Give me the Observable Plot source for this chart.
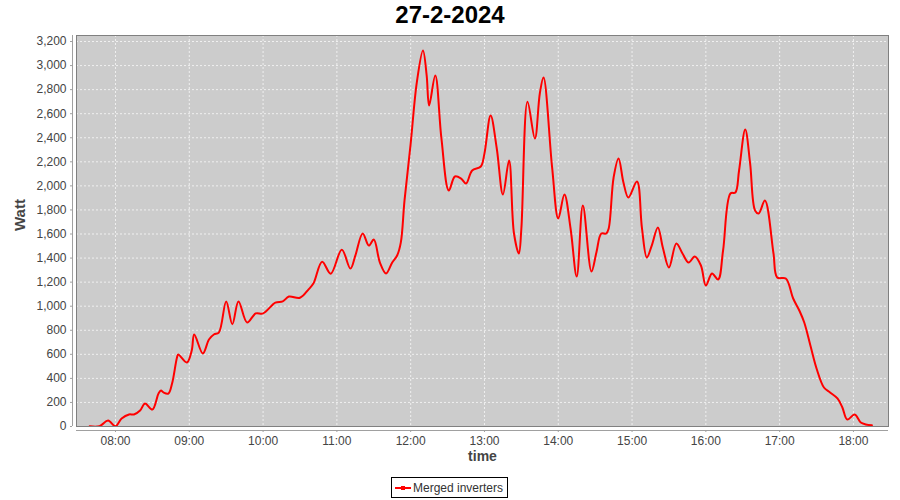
<!DOCTYPE html>
<html>
<head>
<meta charset="utf-8">
<script src="https://cdn.jsdelivr.net/npm/d3@7"></script>
<script src="https://cdn.jsdelivr.net/npm/@observablehq/plot@0.6"></script>
<style>
  html, body { margin: 0; padding: 0; background: #ffffff; }
  #wrap { position: relative; width: 900px; height: 500px; font-family: "Liberation Sans", Arial, sans-serif; }
  #title { position: absolute; left: 0; top: 0; width: 900px; height: 29px; line-height: 29px; text-align: center;
           font-weight: bold; font-size: 24px; color: #000; }
  #chart { position: absolute; left: 0; top: 0; }
  #legend { position: absolute; left: 391px; top: 477px; width: 115px; height: 19px; border: 1px solid #000;
            background: #fff; font-size: 12px; color: #333; }
  #legend .sw { position: absolute; left: 3px; top: 9px; width: 16px; height: 2px; background: #ff0000; }
  #legend .mk { position: absolute; left: 9px; top: 8px; width: 4px; height: 4px; background: #ff0000; }
  #legend .lb { position: absolute; left: 21px; top: 3px; white-space: nowrap; }
</style>
</head>
<body>
<div id="wrap">
  <div id="chart"></div>
  <div id="title">27-2-2024</div>
  <div id="legend"><span class="sw"></span><span class="mk"></span><span class="lb">Merged inverters</span></div>
</div>
<script>
const day = "2024-02-27";
const times = [
  "07:39","07:47","07:54","08:00","08:05","08:11","08:15","08:20","08:24","08:30",
  "08:35","08:37","08:39","08:43","08:46","08:50","08:51","08:58","09:02","09:04",
  "09:11","09:16","09:20","09:24","09:30","09:35","09:40","09:47","09:54","10:00",
  "10:10","10:16","10:21","10:30","10:37","10:41","10:48","10:55","11:04","11:11",
  "11:15","11:21","11:26","11:30","11:35","11:40","11:45","11:49","11:52","11:55",
  "12:00","12:05","12:10","12:13","12:15","12:20","12:25","12:31","12:36","12:41",
  "12:45","12:50","12:57","13:00","13:05","13:10","13:15","13:20","13:24","13:28",
  "13:30","13:35","13:41","13:45","13:48","13:55","14:00","14:05","14:10","14:15",
  "14:20","14:27","14:31","14:35","14:39","14:41","14:45","14:49","14:53","14:57",
  "15:04","15:08","15:12","15:16","15:21","15:25","15:30","15:36","15:41","15:46",
  "15:51","15:56","16:00","16:05","16:10","16:14","16:20","16:24","16:27","16:32",
  "16:36","16:40","16:43","16:48","16:55","16:58","17:05","17:11","17:16","17:20",
  "17:25","17:30","17:36","17:41","17:47","17:51","17:55","18:01","18:06","18:10",
  "18:15"
];
const watts = [
  2, 3, 50, 2, 66, 100, 100, 133, 191, 141,
  274, 299, 283, 274, 357, 574, 598, 532, 632, 765,
  607, 723, 765, 780, 1040, 850, 1040, 865, 940, 940,
  1030, 1040, 1080, 1070, 1140, 1190, 1370, 1270, 1470, 1313,
  1420, 1604, 1504, 1554, 1363, 1272, 1363, 1421, 1530, 1879,
  2352, 2860, 3125, 2918, 2668, 2918, 2394, 1962, 2078, 2061,
  2020, 2128, 2161, 2270, 2585, 2311, 1929, 2211, 1604, 1438,
  1646, 2700, 2394, 2768, 2901, 2153, 1729, 1929, 1646, 1247,
  1837, 1288, 1446, 1604, 1604, 1646, 2070, 2228, 2028, 1904,
  2036, 1654, 1405, 1504, 1654, 1488, 1322, 1521, 1438, 1363,
  1413, 1338, 1172, 1272, 1222, 1463, 1937, 1945, 2128, 2469,
  2186, 1796, 1771, 1879, 1438, 1239, 1230, 1064, 964, 864,
  673, 482, 324, 283, 233, 158, 58, 100, 33, 17,
  10
];
const hourTicks = ["08:00","09:00","10:00","11:00","12:00","13:00","14:00","15:00","16:00","17:00","18:00"];
const yTicks = [0,200,400,600,800,1000,1200,1400,1600,1800,2000,2200,2400,2600,2800,3000,3200];
const xRange = ["07:28:18","18:28:30"];
const yMax = 3250;

const parseHM = d3.timeParse("%Y-%m-%d %H:%M");
const parseHMS = d3.timeParse("%Y-%m-%d %H:%M:%S");
const data = times.map((t, i) => ({time: parseHM(day + " " + t), watt: watts[i]}));
const xTicks = hourTicks.map(t => parseHM(day + " " + t));
const xDomain = xRange.map(t => parseHMS(day + " " + t));

const grid = {stroke: "#ffffff", strokeOpacity: 1, strokeWidth: 0.7, strokeDasharray: "2,2"};

const chart = Plot.plot({
  width: 900,
  height: 470,
  marginLeft: 76,
  marginRight: 12,
  marginTop: 35,
  marginBottom: 44,
  style: {fontFamily: "'Liberation Sans', Arial, sans-serif", fontSize: "12px", color: "#444444", background: "transparent", overflow: "visible"},
  x: {type: "time", domain: xDomain},
  y: {domain: [0, yMax]},
  marks: [
    Plot.frame({fill: "#cccccc", stroke: null}),
    Plot.gridX(xTicks, grid),
    Plot.gridY(yTicks, grid),
    Plot.line(data, {x: "time", y: "watt", stroke: "#ff0000", strokeWidth: 2, curve: "catmull-rom", clip: true}),
    Plot.frame({stroke: "#808080", strokeWidth: 1}),
    Plot.ruleX([xDomain[0]], {dx: -4, stroke: "#a0a0a0"}),
    Plot.ruleY([0], {dy: 4, stroke: "#a0a0a0"}),
    Plot.axisY(yTicks, {tickFormat: d3.format(","), tickSize: 2, tickPadding: 4, dx: -4, label: null, stroke: "#a0a0a0", fill: "#444444"}),
    Plot.axisX(xTicks, {tickFormat: d3.timeFormat("%H:%M"), tickSize: 2, tickPadding: 4, dy: 4, label: null, stroke: "#a0a0a0", fill: "#444444"}),
    Plot.text(["time"], {text: d => d, frameAnchor: "bottom", dy: 34, fontWeight: "bold", fontSize: 14, fill: "#444444"}),
    Plot.text(["Watt"], {text: d => d, frameAnchor: "left", dx: -56, rotate: -90, fontWeight: "bold", fontSize: 15, fill: "#444444"})
  ]
});
document.getElementById("chart").appendChild(chart);
</script>
</body>
</html>
